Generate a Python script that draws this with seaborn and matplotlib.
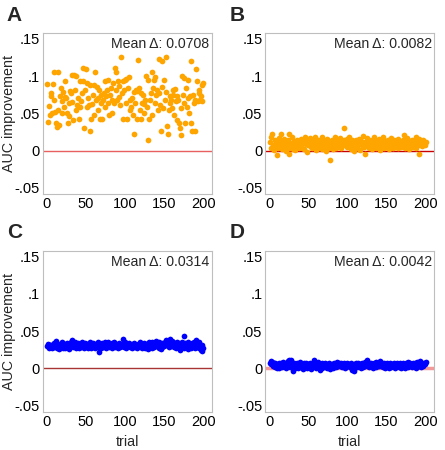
import numpy as np
import pandas as pd
import matplotlib
matplotlib.use("Agg")
import matplotlib.pyplot as plt
import seaborn as sns

# AUC improvement per trial
auc_a = [
    0.089, 0.039, 0.060, 0.048, 0.077, 0.073, 0.050, 0.090, 0.068, 0.106,
    0.052, 0.037, 0.032, 0.055, 0.106, 0.035, 0.073, 0.084, 0.066, 0.050,
    0.079, 0.059, 0.072, 0.093, 0.070, 0.050, 0.037, 0.064, 0.046, 0.080,
    0.077, 0.065, 0.102, 0.041, 0.102, 0.081, 0.055, 0.100, 0.061, 0.070,
    0.043, 0.093, 0.059, 0.067, 0.078, 0.093, 0.111, 0.030, 0.082, 0.109,
    0.059, 0.091, 0.070, 0.061, 0.088, 0.027, 0.043, 0.062, 0.075, 0.088,
    0.048, 0.105, 0.068, 0.085, 0.055, 0.070, 0.082, 0.043, 0.064, 0.075,
    0.043, 0.068, 0.078, 0.059, 0.094, 0.073, 0.082, 0.064, 0.095, 0.048,
    0.075, 0.084, 0.068, 0.050, 0.091, 0.064, 0.111, 0.082, 0.106, 0.068,
    0.093, 0.087, 0.072, 0.061, 0.125, 0.077, 0.093, 0.042, 0.082, 0.095,
    0.064, 0.096, 0.042, 0.084, 0.099, 0.055, 0.068, 0.059, 0.070, 0.048,
    0.022, 0.079, 0.064, 0.082, 0.043, 0.080, 0.121, 0.084, 0.055, 0.077,
    0.043, 0.064, 0.075, 0.062, 0.050, 0.068, 0.100, 0.059, 0.014, 0.095,
    0.043, 0.068, 0.077, 0.105, 0.048, 0.084, 0.095, 0.064, 0.099, 0.075,
    0.082, 0.055, 0.123, 0.077, 0.061, 0.026, 0.086, 0.120, 0.057, 0.095,
    0.068, 0.079, 0.125, 0.033, 0.023, 0.055, 0.073, 0.064, 0.068, 0.057,
    0.082, 0.075, 0.048, 0.083, 0.066, 0.041, 0.073, 0.068, 0.037, 0.030,
    0.021, 0.057, 0.100, 0.075, 0.097, 0.064, 0.037, 0.084, 0.059, 0.070,
    0.095, 0.050, 0.073, 0.037, 0.120, 0.026, 0.075, 0.064, 0.026, 0.068,
    0.109, 0.093, 0.066, 0.082, 0.077, 0.068, 0.074, 0.088, 0.066, 0.091,
]
auc_b = [
    0.012, 0.004, 0.019, 0.023, 0.008, 0.001, 0.015, 0.006, 0.010, -0.006,
    0.003, 0.011, 0.017, 0.007, 0.022, 0.013, 0.002, 0.009, 0.016, 0.005,
    0.000, 0.012, 0.008, 0.014, 0.023, -0.005, 0.004, 0.010, 0.018, 0.002,
    0.007, 0.013, 0.001, 0.009, 0.015, 0.006, 0.011, 0.003, 0.012, 0.008,
    0.016, 0.004, 0.010, 0.014, 0.002, 0.019, 0.009, -0.002, 0.013, 0.007,
    0.011, 0.017, 0.005, 0.008, 0.003, 0.014, 0.010, 0.018, 0.006, 0.001,
    0.012, 0.009, 0.015, 0.004, 0.011, 0.007, 0.002, 0.019, 0.008, 0.013,
    0.005, -0.001, 0.010, 0.016, 0.006, 0.012, 0.003, -0.012, 0.009, 0.014,
    0.002, 0.011, 0.007, 0.019, 0.004, 0.013, 0.008, 0.015, 0.010, 0.006,
    0.017, 0.003, 0.012, 0.009, 0.014, 0.030, 0.007, 0.011, 0.016, 0.005,
    0.013, 0.019, 0.008, 0.002, 0.010, 0.015, 0.006, 0.012, 0.000, 0.009,
    0.014, 0.004, 0.011, 0.007, 0.016, 0.001, 0.013, 0.008, 0.010, 0.020,
    0.005, 0.012, -0.004, 0.009, 0.017, 0.006, 0.014, 0.003, 0.011, 0.008,
    0.015, 0.002, 0.010, 0.018, 0.007, 0.013, 0.004, 0.012, 0.009, 0.016,
    0.001, 0.011, 0.006, 0.014, 0.008, 0.018, 0.003, 0.010, 0.013, 0.005,
    0.009, 0.015, 0.002, 0.012, 0.007, 0.017, 0.011, 0.004, 0.014, 0.008,
    0.010, 0.006, 0.013, 0.003, 0.016, 0.009, 0.012, 0.005, 0.011, 0.007,
    0.014, 0.021, 0.008, 0.004, 0.012, 0.017, 0.006, 0.010, 0.002, 0.013,
    0.009, 0.005, 0.015, 0.005, 0.011, 0.007, 0.018, 0.003, 0.012, 0.008,
    0.016, -0.005, 0.013, 0.010, 0.006, 0.014, 0.009, 0.011, 0.007, 0.012,
]
auc_c = [
    0.030, 0.033, 0.028, 0.031, 0.029, 0.032, 0.027, 0.030, 0.034, 0.029,
    0.031, 0.037, 0.028, 0.033, 0.030, 0.026, 0.032, 0.029, 0.035, 0.031,
    0.028, 0.030, 0.033, 0.027, 0.031, 0.034, 0.029, 0.032, 0.026, 0.030,
    0.035, 0.031, 0.038, 0.029, 0.033, 0.036, 0.028, 0.032, 0.030, 0.034,
    0.027, 0.031, 0.033, 0.029, 0.036, 0.030, 0.032, 0.028, 0.034, 0.031,
    0.029, 0.033, 0.027, 0.031, 0.035, 0.030, 0.028, 0.032, 0.034, 0.029,
    0.031, 0.027, 0.033, 0.030, 0.035, 0.029, 0.022, 0.032, 0.028, 0.031,
    0.034, 0.029, 0.032, 0.036, 0.030, 0.028, 0.033, 0.031, 0.035, 0.029,
    0.032, 0.030, 0.034, 0.028, 0.031, 0.036, 0.029, 0.033, 0.030, 0.032,
    0.028, 0.034, 0.031, 0.029, 0.033, 0.030, 0.040, 0.032, 0.029, 0.035,
    0.031, 0.028, 0.033, 0.030, 0.034, 0.029, 0.032, 0.031, 0.027, 0.033,
    0.030, 0.034, 0.029, 0.032, 0.028, 0.031, 0.033, 0.030, 0.035, 0.029,
    0.032, 0.027, 0.031, 0.034, 0.030, 0.028, 0.033, 0.031, 0.026, 0.032,
    0.035, 0.030, 0.033, 0.028, 0.036, 0.031, 0.029, 0.034, 0.032, 0.037,
    0.030, 0.033, 0.028, 0.035, 0.031, 0.026, 0.034, 0.029, 0.032, 0.030,
    0.036, 0.033, 0.038, 0.031, 0.035, 0.029, 0.040, 0.034, 0.030, 0.037,
    0.032, 0.035, 0.029, 0.033, 0.027, 0.036, 0.031, 0.034, 0.030, 0.025,
    0.033, 0.029, 0.036, 0.031, 0.044, 0.028, 0.034, 0.030, 0.032, 0.026,
    0.035, 0.029, 0.033, 0.031, 0.027, 0.034, 0.030, 0.036, 0.032, 0.028,
    0.038, 0.031, 0.034, 0.027, 0.035, 0.029, 0.025, 0.032, 0.024, 0.028,
]
auc_d = [
    0.008, 0.010, 0.006, 0.009, 0.004, 0.007, 0.002, 0.008, 0.005, 0.001,
    0.006, 0.000, 0.007, 0.003, 0.008, 0.002, 0.005, 0.009, 0.004, 0.006,
    0.001, 0.007, 0.003, 0.010, 0.005, 0.011, 0.002, 0.011, 0.006, -0.003,
    0.004, 0.008, 0.001, 0.006, 0.003, 0.007, 0.000, 0.005, 0.009, 0.002,
    0.006, 0.004, -0.001, 0.007, 0.003, 0.005, 0.008, 0.001, 0.004, 0.006,
    0.002, 0.007, 0.005, -0.001, 0.006, 0.003, 0.012, 0.004, 0.008, 0.001,
    0.005, 0.009, 0.002, 0.006, -0.002, 0.004, 0.007, 0.001, 0.005, 0.003,
    0.008, 0.002, 0.006, 0.000, 0.005, 0.003, 0.007, -0.001, 0.004, 0.006,
    0.001, 0.005, 0.008, 0.003, 0.006, 0.002, 0.009, 0.004, 0.007, 0.003,
    0.005, 0.008, 0.002, 0.006, 0.004, 0.007, 0.001, 0.005, 0.003, 0.008,
    0.004, 0.006, 0.002, 0.005, 0.007, -0.002, 0.004, -0.003, 0.006, 0.003,
    0.007, 0.002, 0.005, 0.008, 0.003, 0.006, 0.001, 0.004, 0.007, 0.002,
    0.005, 0.009, 0.003, 0.006, 0.011, 0.004, 0.007, 0.002, 0.005, 0.008,
    0.003, 0.006, 0.001, 0.007, 0.004, 0.009, 0.002, 0.005, 0.008, 0.003,
    0.006, 0.010, 0.004, 0.007, 0.002, 0.005, 0.008, 0.001, 0.006, 0.003,
    0.007, 0.004, 0.000, 0.005, 0.008, 0.002, 0.006, 0.003, 0.007, 0.004,
    0.001, 0.005, 0.008, 0.003, 0.006, 0.002, 0.007, 0.004, 0.000, 0.005,
    0.008, 0.003, 0.006, 0.001, 0.007, 0.004, 0.009, 0.002, 0.005, 0.007,
    0.003, 0.006, 0.002, 0.008, 0.004, 0.007, 0.001, 0.005, 0.009, 0.003,
    0.006, 0.004, 0.010, 0.002, 0.007, 0.005, 0.003, 0.008, 0.006, 0.009,
]

panel_letters = ["A", "B", "C", "D"]
mean_labels = ["0.0708", "0.0082", "0.0314", "0.0042"]
y_ticks = [-0.05, 0, 0.05, 0.1, 0.15]
y_tick_labels = ["-.05", "0", ".05", ".1", ".15"]
x_ticks = [0, 50, 100, 150, 200]

sns.set_style("white")
plt.rcParams["font.family"] = ["Liberation Sans", "DejaVu Sans"]

# one long table for all four panels
frames = []
for letter, vals in zip(panel_letters, [auc_a, auc_b, auc_c, auc_d]):
    frames.append(pd.DataFrame({"trial": np.arange(1, len(vals) + 1),
                                "auc": vals, "panel": letter}))
df = pd.concat(frames, ignore_index=True)

dot_colors = {"A": "#FFA500", "B": "#FFA500", "C": "#0000FF", "D": "#0000FF"}
zero_line = {"A": ("#E86060", 1.0), "B": ("#C80000", 1.0),
             "C": ("#A83434", 1.0), "D": ("#F29A9A", 2.5)}

fig = plt.figure(figsize=(4.45, 4.5), dpi=100)
lefts = [0.096, 0.596, 0.096, 0.596]
bottoms = [0.569, 0.569, 0.085, 0.085]
w, h = 0.380, 0.358

for i, letter in enumerate(panel_letters):
    ax = fig.add_axes([lefts[i], bottoms[i], w, h])
    col, lw = zero_line[letter]
    ax.axhline(0, color=col, lw=lw, zorder=1)
    sns.scatterplot(data=df[df["panel"] == letter], x="trial", y="auc",
                    color=dot_colors[letter], s=17, linewidth=0, ax=ax,
                    zorder=2)
    ax.set_xlim(-5, 211)
    ax.set_ylim(-0.058, 0.158)
    ax.set_xticks(x_ticks)
    ax.set_yticks(y_ticks)
    ax.set_yticklabels(y_tick_labels)
    ax.tick_params(length=0, labelsize=10.5, pad=2, colors="black")
    for sp in ax.spines.values():
        sp.set_color("#BEBEBE")
        sp.set_linewidth(0.8)
    ax.set_ylabel("AUC improvement" if i % 2 == 0 else "", fontsize=10.3)
    ax.yaxis.set_label_coords(-0.16, 0.5)
    ax.set_xlabel("trial" if i >= 2 else "", fontsize=10.3, labelpad=5)
    ax.text(0.985, 0.975, "Mean\u2009\u0394: " + mean_labels[i],
            transform=ax.transAxes, ha="right", va="top", fontsize=10.2)
    fig.text(lefts[i] - 0.081, bottoms[i] + h + 0.027, letter,
             fontsize=15, fontweight="bold", ha="left", va="baseline")

fig.savefig("out.png", dpi=100)
